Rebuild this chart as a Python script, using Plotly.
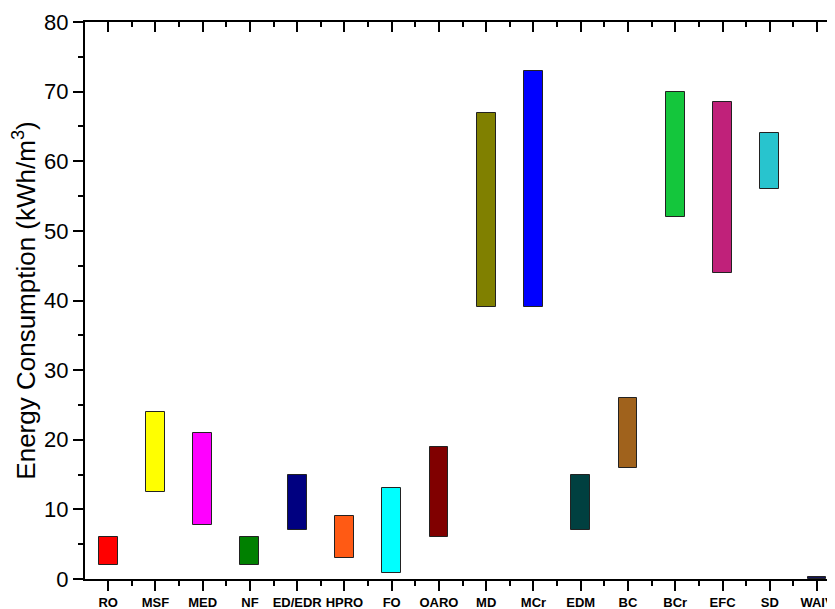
import plotly.graph_objects as go

categories = ["RO", "MSF", "MED", "NF", "ED/EDR", "HPRO", "FO", "OARO",
              "MD", "MCr", "EDM", "BC", "BCr", "EFC", "SD", "WAIV"]
low_values = [2, 12.5, 7.8, 2, 7, 3, 0.8, 6, 39, 39, 7, 16, 52, 44, 56, 0]
high_values = [6, 24, 21, 6, 15, 9, 13, 19, 67, 73, 15, 26, 70, 68.5, 64, 0.3]
bar_colors = ["#FF0000", "#FFFF00", "#FF00FF", "#008000", "#000080", "#FF5A14",
              "#00FFFF", "#800000", "#808000", "#0000FF", "#004040", "#A0621C",
              "#14C63C", "#C0217A", "#28C4CE", "#14145A"]
y_ticks = [0, 10, 20, 30, 40, 50, 60, 70, 80]

x_pos = list(range(len(categories)))
heights = [h - l for h, l in zip(high_values, low_values)]

fig = go.Figure()
fig.add_trace(go.Bar(
    x=x_pos, y=heights, base=low_values, width=0.4,
    marker=dict(color=bar_colors, line=dict(color="#222222", width=1)),
    showlegend=False, hoverinfo="skip",
))
# helper (empty) trace so the mirrored top / right axes are drawn
fig.add_trace(go.Scatter(x=[], y=[], xaxis="x2", yaxis="y2",
                         showlegend=False, hoverinfo="skip"))

xr = [-0.49, 15.38]
yr = [0, 80]
font = "Liberation Sans, Arial, sans-serif"

# page body has an 8px margin: compensate so the plot area sits where the reference's does
fig.update_layout(
    width=827, height=601,
    margin=dict(l=77, r=0, t=14, b=30),
    paper_bgcolor="white", plot_bgcolor="white",
    font=dict(family=font, color="black"),
    xaxis=dict(
        range=xr, tickmode="array", tickvals=x_pos, ticktext=categories,
        tickfont=dict(size=13, family=font, weight="bold"),
        ticks="outside", ticklen=10, tickwidth=2, tickcolor="black",
        minor=dict(tick0=0.5, dtick=1, ticks="outside", ticklen=5, tickwidth=2, tickcolor="black"),
        showline=True, linewidth=2, linecolor="black", mirror=False,
        showgrid=False, zeroline=False, automargin=False, fixedrange=True,
    ),
    xaxis2=dict(
        range=xr, overlaying="x", side="top", anchor="y2",
        tickmode="array", tickvals=x_pos, showticklabels=False,
        ticks="inside", ticklen=10, tickwidth=2, tickcolor="black",
        minor=dict(tick0=0.5, dtick=1, ticks="inside", ticklen=5, tickwidth=2, tickcolor="black"),
        showline=True, linewidth=2, linecolor="black",
        showgrid=False, zeroline=False, automargin=False,
    ),
    yaxis=dict(
        range=yr, tickmode="array", tickvals=y_ticks,
        tickfont=dict(size=22, family=font),
        ticks="outside", ticklen=10, tickwidth=2, tickcolor="black",
        minor=dict(dtick=5, ticks="outside", ticklen=5, tickwidth=2, tickcolor="black"),
        showline=True, linewidth=2, linecolor="black", mirror=False,
        showgrid=False, zeroline=False, automargin=False,
        title=dict(text="Energy Consumption (kWh/m<sup>3</sup>)", font=dict(size=26, family=font)),
    ),
    yaxis2=dict(
        range=yr, overlaying="y", side="right", anchor="x2",
        tickmode="array", tickvals=y_ticks, showticklabels=False,
        ticks="inside", ticklen=3, tickwidth=2, tickcolor="black",
        showline=False, showgrid=False, zeroline=False, automargin=False,
    ),
    bargap=0,
)

fig.write_html("out.html")
